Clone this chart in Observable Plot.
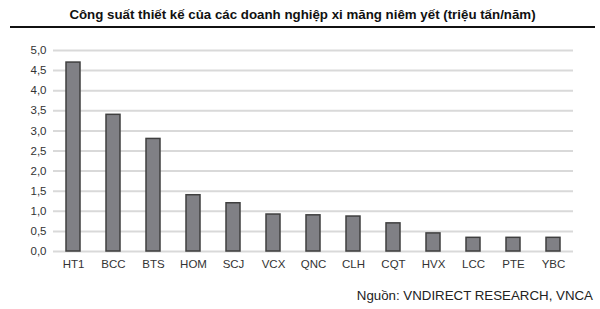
<!DOCTYPE html>
<html>
<head>
<meta charset="utf-8">
<script src="https://cdn.jsdelivr.net/npm/d3@7"></script>
<script src="https://cdn.jsdelivr.net/npm/@observablehq/plot@0.6"></script>
<style>
  body { margin: 0; background: #fff; font-family: "Liberation Sans", Arial, sans-serif; width: 600px; height: 309px; overflow: hidden; }
  #title { margin-left: 10px; width: 585px; padding-top: 6px; height: 20px; line-height: 18px; font-size: 13.3px; font-weight: bold; text-align: center; color: #111; border-bottom: 2px solid #111; box-sizing: content-box; }
  #caption { text-align: right; padding-right: 7px; font-size: 13.3px; color: #222; line-height: 16px; padding-top: 10px; }
  svg { display: block; }
</style>
</head>
<body>
<div id="title">Công suất thiết kế của các doanh nghiệp xi măng niêm yết (triệu tấn/năm)</div>
<div id="chart"></div>
<div id="caption">Nguồn: VNDIRECT RESEARCH, VNCA</div>
<script>
const companies = ["HT1","BCC","BTS","HOM","SCJ","VCX","QNC","CLH","CQT","HVX","LCC","PTE","YBC"];
const capacity = [4.7, 3.4, 2.8, 1.4, 1.2, 0.92, 0.9, 0.87, 0.7, 0.45, 0.34, 0.34, 0.34];
const yTicks = [0, 0.5, 1, 1.5, 2, 2.5, 3, 3.5, 4, 4.5, 5];

const data = companies.map((c, i) => ({company: c, value: capacity[i]}));
const fmt = v => d3.format(".1f")(v).replace(".", ",");

const chart = Plot.plot({
  width: 600,
  height: 250,
  marginTop: 22,
  marginBottom: 27,
  marginLeft: 53,
  marginRight: 27,
  style: {fontFamily: '"Liberation Sans", Arial, sans-serif', fontSize: "11.5px", color: "#333", background: "#fff"},
  x: {domain: companies, paddingInner: 0.65, paddingOuter: 0.325, label: null},
  y: {domain: [0, 5], label: null},
  marks: [
    Plot.ruleY(yTicks, {stroke: "#d9d9d9", strokeWidth: 2}),
    Plot.barY(data, {x: "company", y: "value", fill: "#808085", stroke: "#3f3f3f", strokeWidth: 1.5}),
    Plot.axisY({ticks: yTicks, tickFormat: fmt, tickSize: 0, tickPadding: 7, label: null, fill: "#333"}),
    Plot.axisX({tickSize: 0, tickPadding: 8, label: null, fill: "#333"})
  ]
});
document.getElementById("chart").appendChild(chart);
</script>
</body>
</html>
